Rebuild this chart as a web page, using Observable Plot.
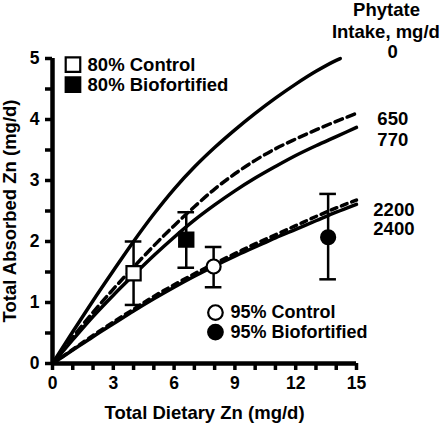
<!DOCTYPE html>
<html>
<head>
<meta charset="utf-8">
<script src="https://cdn.jsdelivr.net/npm/d3@7"></script>
<script src="https://cdn.jsdelivr.net/npm/@observablehq/plot@0.6"></script>
<style>
  html, body { margin: 0; padding: 0; background: white; }
  #chart { width: 442px; height: 426px; }
</style>
</head>
<body>
<div id="chart"></div>
<script>
// ---- Data ----
const dietX = [0, 1, 2, 3, 4, 5, 6, 7, 8, 9, 10, 11, 12, 13, 14, 15];
const curve0X = [0, 1, 2, 3, 4, 5, 6, 7, 8, 9, 10, 11, 12, 13, 14, 14.2];
const phytate0 = [0, 0.52, 1.03, 1.52, 2.0, 2.45, 2.86, 3.22, 3.54, 3.83, 4.10, 4.35, 4.58, 4.79, 4.97, 5.0];
const phytate650 = [0, 0.43, 0.84, 1.22, 1.58, 1.93, 2.26, 2.57, 2.86, 3.11, 3.33, 3.52, 3.68, 3.83, 3.97, 4.10];
const phytate770 = [0, 0.39, 0.77, 1.12, 1.45, 1.77, 2.07, 2.35, 2.60, 2.83, 3.04, 3.23, 3.41, 3.57, 3.72, 3.87];
const phytate2200 = [0, 0.23, 0.46, 0.68, 0.89, 1.10, 1.29, 1.47, 1.64, 1.80, 1.96, 2.11, 2.26, 2.41, 2.55, 2.68];
const phytate2400 = [0, 0.22, 0.44, 0.65, 0.86, 1.06, 1.25, 1.43, 1.60, 1.76, 1.91, 2.06, 2.20, 2.34, 2.48, 2.61];

const groups = ["80% Control", "80% Biofortified", "95% Control", "95% Biofortified"];
const groupDietZn = [4.0, 6.6, 7.95, 13.6];
const groupAbsZn = [1.48, 2.03, 1.59, 2.07];
const groupLow = [0.96, 1.57, 1.25, 1.38];
const groupHigh = [2.0, 2.48, 1.91, 2.78];

const phytateLabels = ["0", "650", "770", "2200", "2400"];
const xMajorTicks = [0, 3, 6, 9, 12, 15];
const xMinorTicks = [1, 2, 4, 5, 7, 8, 10, 11, 13, 14];
const yMajorTicks = [0, 1, 2, 3, 4, 5];
const yMinorTicks = [0.5, 1.5, 2.5, 3.5, 4.5];

// ---- Build tables ----
const pts = groups.map((g, i) => ({g, x: groupDietZn[i], y: groupAbsZn[i], lo: groupLow[i], hi: groupHigh[i]}));
const isSquare = d => d.g.startsWith("80%");
const isFilled = d => d.g.includes("Biofortified");

const capHalf = 0.41;
const font = "'Liberation Sans', Arial, Helvetica, sans-serif";
const fs = 18.5;

const plot = Plot.plot({
  width: 442,
  height: 426,
  marginLeft: 52,
  marginRight: 86,
  marginTop: 58,
  marginBottom: 63,
  x: {domain: [0, 15]},
  y: {domain: [0, 5]},
  style: {fontFamily: font, fontWeight: "bold", fontSize: "17px", background: "white", overflow: "visible", color: "black"},
  marks: [
    // axes ticks
    Plot.axisX(xMinorTicks, {tickSize: 7, strokeWidth: 3.5, tickFormat: () => "", label: null}),
    Plot.axisX(xMajorTicks, {tickSize: 7, strokeWidth: 3.5, tickPadding: 6, tickFormat: d => String(d), fontSize: 17.5, fontWeight: "bold", label: null}),
    Plot.axisY(yMinorTicks, {tickSize: 7, strokeWidth: 3.5, tickFormat: () => "", label: null}),
    Plot.axisY(yMajorTicks, {tickSize: 7, strokeWidth: 3.5, tickPadding: 6, tickFormat: d => String(d), fontSize: 17.5, fontWeight: "bold", label: null}),
    // axis lines
    Plot.ruleX([0], {y1: 0, y2: 5, strokeWidth: 4.5}),
    Plot.ruleY([0], {x1: 0, x2: 15, strokeWidth: 4.5}),
    // axis titles
    Plot.text(["Total Dietary Zn (mg/d)"], {frameAnchor: "bottom", dy: 50, textAnchor: "middle", fontSize: fs, fontWeight: "bold", lineAnchor: "middle"}),
    Plot.text(["Total Absorbed Zn (mg/d)"], {frameAnchor: "left", dx: -42, rotate: -90, textAnchor: "middle", fontSize: fs, fontWeight: "bold", lineAnchor: "middle"}),
    // curves
    Plot.line(curve0X, {x: curve0X, y: phytate0, stroke: "black", strokeWidth: 3.5, curve: "monotone-x"}),
    Plot.line(dietX, {x: dietX, y: phytate650, stroke: "black", strokeWidth: 3.5, strokeDasharray: "8,5", curve: "monotone-x"}),
    Plot.line(dietX, {x: dietX, y: phytate770, stroke: "black", strokeWidth: 3.5, curve: "monotone-x"}),
    Plot.line(dietX, {x: dietX, y: phytate2200, stroke: "black", strokeWidth: 3.5, strokeDasharray: "6,5", curve: "monotone-x"}),
    Plot.line(dietX, {x: dietX, y: phytate2400, stroke: "black", strokeWidth: 3.5, curve: "monotone-x"}),
    // error bars
    Plot.ruleX(pts, {x: "x", y1: "lo", y2: "hi", strokeWidth: 2.5}),
    Plot.ruleY(pts, {y: "lo", x1: d => d.x - capHalf, x2: d => d.x + capHalf, strokeWidth: 2.5}),
    Plot.ruleY(pts, {y: "hi", x1: d => d.x - capHalf, x2: d => d.x + capHalf, strokeWidth: 2.5}),
    // markers
    Plot.dot(pts.filter(isSquare), {x: "x", y: "y", symbol: "square", r: 8, stroke: "black", strokeWidth: 2.2, fill: d => isFilled(d) ? "black" : "white"}),
    Plot.dot(pts.filter(d => !isSquare(d)), {x: "x", y: "y", symbol: "circle", r: 7, stroke: "black", strokeWidth: 2.2, fill: d => isFilled(d) ? "black" : "white"}),
    // legends (top-left squares, bottom-right circles)
    Plot.dot(pts.filter(isSquare), {x: 1.01, y: (d, i) => [4.90, 4.57][i], symbol: "square", r: 8.2, stroke: "black", strokeWidth: 2.2, fill: d => isFilled(d) ? "black" : "white"}),
    Plot.text(pts.filter(isSquare), {x: 1.73, y: (d, i) => [4.90, 4.57][i], text: "g", textAnchor: "start", fontSize: fs, fontWeight: "bold"}),
    Plot.dot(pts.filter(d => !isSquare(d)), {x: 8.04, y: (d, i) => [0.835, 0.515][i], symbol: "circle", r: 7.3, stroke: "black", strokeWidth: 2.2, fill: d => isFilled(d) ? "black" : "white"}),
    Plot.text(pts.filter(d => !isSquare(d)), {x: 8.78, y: (d, i) => [0.835, 0.515][i], text: "g", textAnchor: "start", fontSize: 18, fontWeight: "bold"}),
    // phytate header
    Plot.text(["Phytate"], {x: 16.48, y: 5.80, fontSize: fs, fontWeight: "bold"}),
    Plot.text(["Intake, mg/d"], {x: 16.45, y: 5.44, fontSize: fs, fontWeight: "bold"}),
    Plot.text([phytateLabels[0]], {x: 16.78, y: 5.11, fontSize: fs, fontWeight: "bold"}),
    // phytate curve labels
    Plot.text(phytateLabels.slice(1), {x: (d, i) => [16.03, 16.03, 15.83, 15.83][i], y: (d, i) => [4.01, 3.66, 2.52, 2.20][i], text: d => d, textAnchor: "start", fontSize: fs, fontWeight: "bold"})
  ]
});
document.getElementById("chart").appendChild(plot);
</script>
</body>
</html>
